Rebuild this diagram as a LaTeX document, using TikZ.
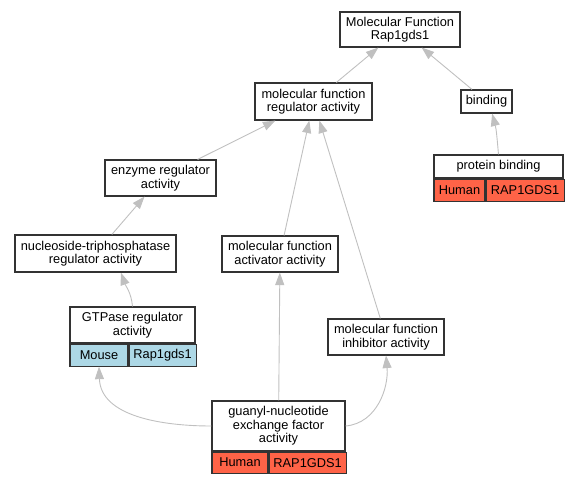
\documentclass[tikz,border=0pt]{standalone}
\usepackage{fontspec}
\setmainfont{Liberation Sans}
\usetikzlibrary{positioning,arrows.meta}
\definecolor{human}{RGB}{255,99,71}
\definecolor{mouse}{RGB}{173,216,230}
\definecolor{linkgray}{RGB}{192,192,192}
\definecolor{boxline}{RGB}{51,51,51}
\tikzset{term node/.style={rectangle,draw=boxline,line width=1.1pt,fill=white,align=center,inner sep=0pt,font=\fontsize{12.8}{13.5}\selectfont},
  cell node/.style={term node,minimum height=22pt},
  link/.style={draw=linkgray,line width=0.9pt,>={Triangle[length=12.5pt,width=9pt]},->},
}

\begin{document}
\begin{tikzpicture}[x=1pt,y=-1pt]
	\useasboundingbox (0,0) rectangle (579,483);
	\node[term node,minimum width=120pt,minimum height=35pt] (mf) at (400,29.5) {Molecular Function\\Rap1gds1};
	\node[term node,minimum width=117pt,minimum height=37pt] (mfra) at (313.5,101.5) {molecular function\\regulator activity};
	\node[term node,minimum width=51pt,minimum height=23pt] (binding) at (486.5,101.5) {binding};
	\node[term node,minimum width=129pt,minimum height=23pt] (pb) at (498.5,166.5) {protein binding};
	\node[cell node,fill=human,minimum width=51pt,below right=0pt and 0pt of pb.south west] (pbsp) {Human};
	\node[cell node,fill=human,minimum width=78pt,right=0pt of pbsp] (pbgn) {RAP1GDS1};
	\node[term node,minimum width=111pt,minimum height=36pt] (enzyme) at (160.5,178) {enzyme regulator\\activity};
	\node[term node,minimum width=161pt,minimum height=37pt] (ntp) at (95.5,253.5) {nucleoside-triphosphatase\\regulator activity};
	\node[term node,minimum width=116pt,minimum height=36pt] (activator) at (280,254) {molecular function\\activator activity};
	\node[term node,minimum width=125pt,minimum height=36pt] (gtpase) at (132.5,325) {GTPase regulator\\activity};
	\node[cell node,fill=mouse,minimum width=58pt,below right=0pt and 0pt of gtpase.south west] (gtpsp) {Mouse};
	\node[cell node,fill=mouse,minimum width=67pt,right=0pt of gtpsp] (gtpgn) {Rap1gds1};
	\node[term node,minimum width=116pt,minimum height=36pt] (inhibitor) at (386,337) {molecular function\\inhibitor activity};
	\node[term node,minimum width=133pt,minimum height=50pt] (gnef) at (278.5,426) {guanyl-nucleotide\\exchange factor\\activity};
	\node[cell node,fill=human,minimum width=56pt,minimum height=21pt,below right=0pt and 0pt of gnef.south west] (gnefsp) {Human};
	\node[cell node,fill=human,minimum width=77pt,minimum height=21pt,right=0pt of gnefsp] (gnefgn) {RAP1GDS1};

	\path[draw]
	(mfra) edge[link] (mf)
	(binding) edge[link] (mf)
	(pb.north) edge[link,out=95,in=-75] (binding.-65)
	(enzyme) edge[link] (mfra)
	(activator) edge[link] (mfra)
	(inhibitor) edge[link] (mfra)
	(ntp) edge[link] (enzyme)
	(gtpase.north) edge[link,out=95,in=-70] (ntp.-37)
	(gnef.west) edge[link,out=180,in=-88] (gtpsp.south)
	(gnef) edge[link] (activator)
	(gnef.east) edge[link,out=5,in=-85] (inhibitor.south);
\end{tikzpicture}
\end{document}
